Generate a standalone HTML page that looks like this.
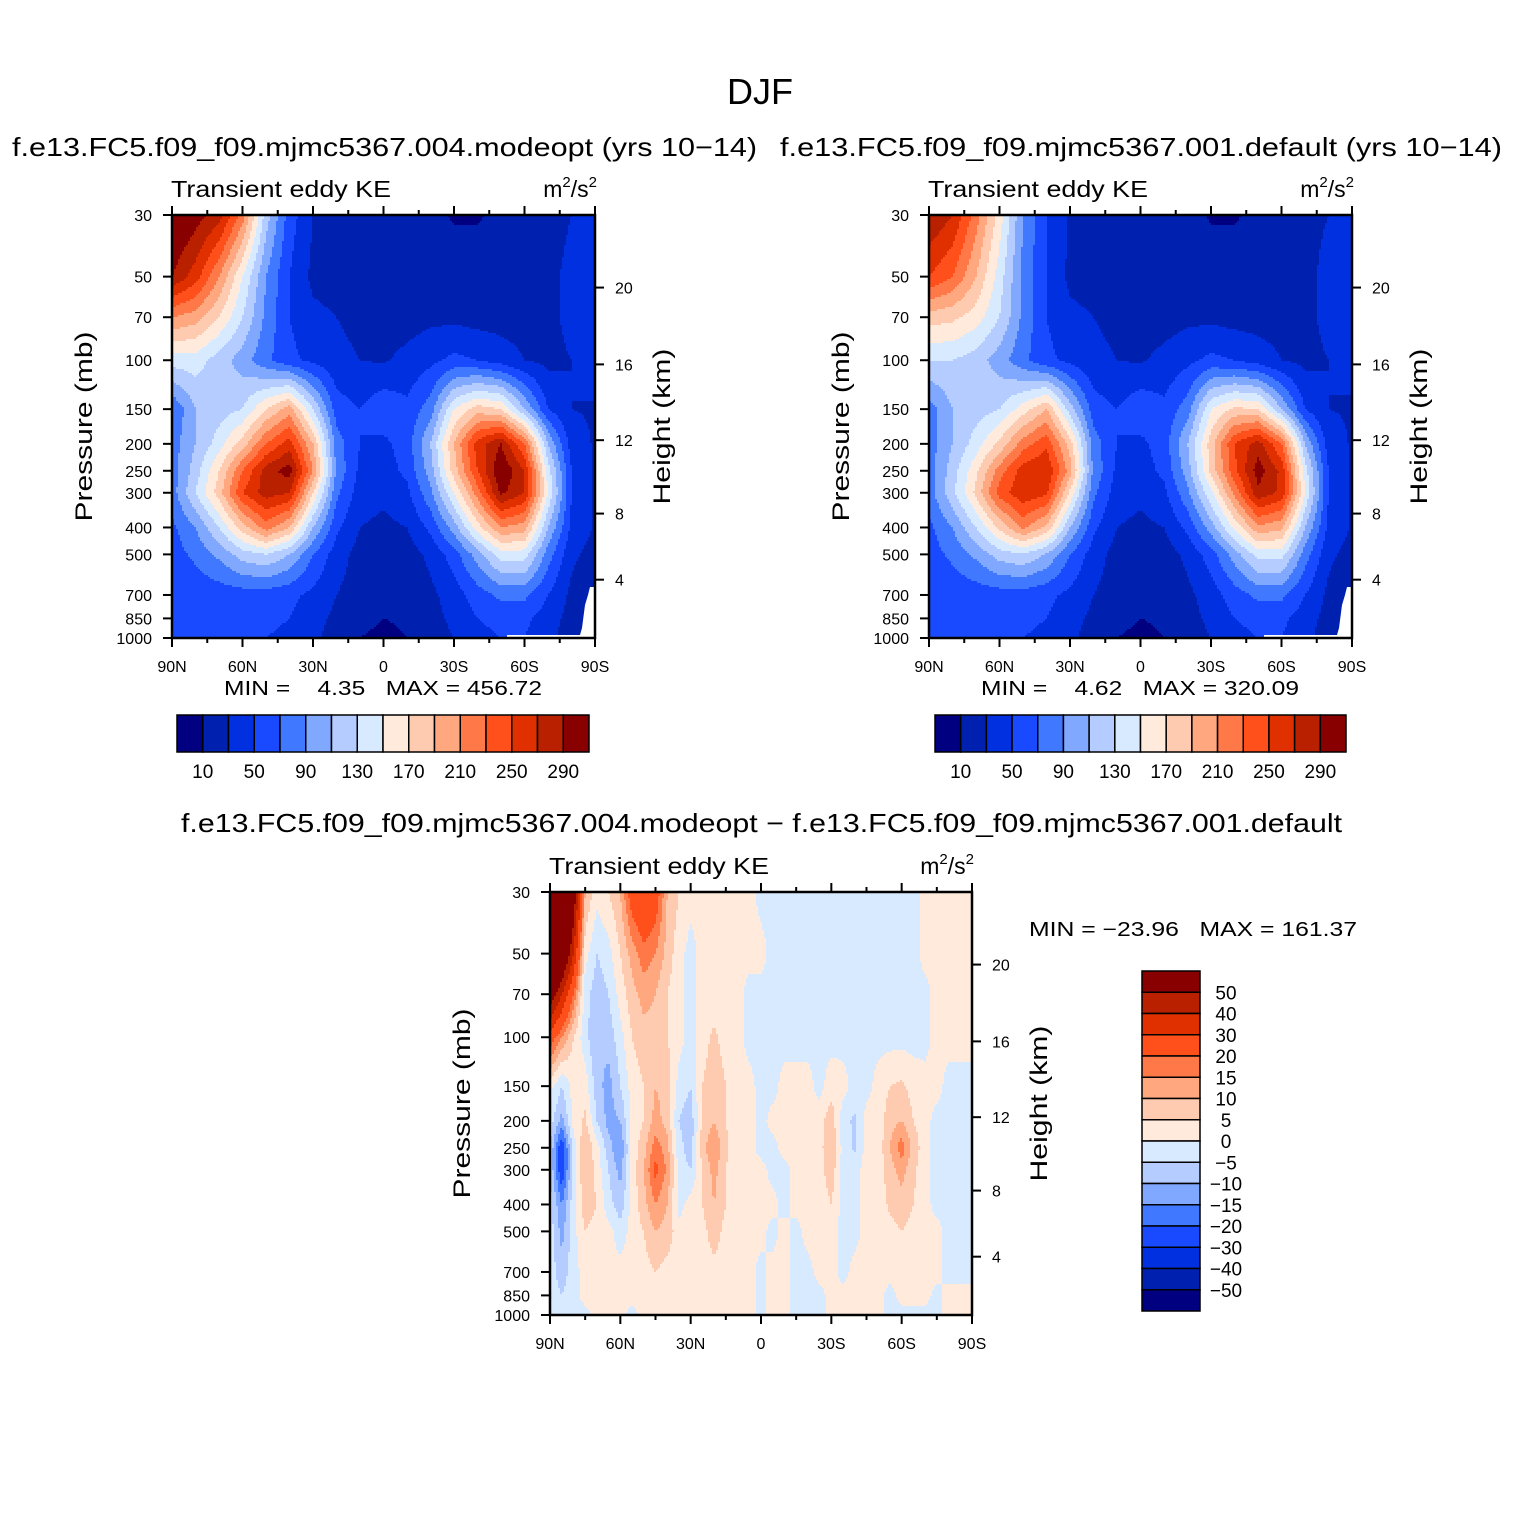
<!DOCTYPE html>
<html><head><meta charset="utf-8">
<style>
html,body{margin:0;padding:0;background:#fff;}
svg{display:block;font-family:"Liberation Sans",Arial,sans-serif;}
text{fill:#000;}
</style></head>
<body>
<svg id="fig" width="1524" height="1524" viewBox="0 0 1524 1524" xmlns="http://www.w3.org/2000/svg">
<rect x="0" y="0" width="1524" height="1524" fill="#fff"/>
<text x="760" y="104" font-size="36" text-anchor="middle">DJF</text>
</svg>
<script>
// ---------- data ----------
const levels = [30,50,70,100,150,200,250,300,400,500,700,850,1000];
const lats19 = [90,80,70,60,50,40,30,20,10,0,-10,-20,-30,-40,-50,-60,-70,-80,-90];
const lats37 = [90,85,80,75,70,65,60,55,50,45,40,35,30,25,20,15,10,5,0,-5,-10,-15,-20,-25,-30,-35,-40,-45,-50,-55,-60,-65,-70,-75,-80,-85,-90];
const keLevels = [10,30,50,70,90,110,130,150,170,190,210,230,250,270,290];
const keTickLabels = ["10","50","90","130","170","210","250","290"];
const diffLevels = [-50,-40,-30,-20,-15,-10,-5,0,5,10,15,20,30,40,50];
const diffTickLabels = ["50","40","30","20","15","10","5","0","\u22125","\u221210","\u221215","\u221220","\u221230","\u221240","\u221250"];
const colors = ["#000080","#0020b0","#0030e0","#1a4aff","#4078ff","#80a8ff","#b4ccff","#d8eaff","#ffeadb","#ffcbb0","#ffa880","#ff7848","#ff4f1a","#e03000","#b82000","#880000"];
const heightKm = [20,16,12,8,4];
const heightP = [54.75,103.5,194.0,356.5,616.6];
const latTicks = [90,60,30,0,-30,-60,-90];
const latTickLabels = ["90N","60N","30N","0","30S","60S","90S"];
const pTicks = [30,50,70,100,150,200,250,300,400,500,700,850,1000];

const modeopt = [
[320,300,280,220,120,60,30,25,22,20,20,15,8,8,15,20,22,30,45],
[290,260,210,150,90,50,25,22,20,20,20,20,20,20,22,22,25,35,45],
[210,200,170,130,85,50,35,30,25,22,22,25,25,22,22,22,25,35,45],
[140,140,120,100,75,55,45,35,30,28,35,45,55,50,40,30,25,30,40],
[70,110,120,130,170,200,130,60,50,65,55,80,150,180,170,110,50,30,28],
[80,110,140,180,230,260,190,80,50,45,60,110,190,260,290,230,110,40,28],
[80,120,170,230,280,300,210,85,45,40,55,100,180,250,310,270,140,50,28],
[80,130,180,250,280,270,170,75,40,35,45,85,150,220,295,270,150,50,28],
[65,90,130,180,220,190,110,55,30,25,30,55,100,160,210,200,110,45,28],
[60,75,95,120,130,110,70,40,22,18,20,35,60,100,140,140,80,35,22],
[55,55,58,60,60,55,45,30,20,15,15,25,40,60,75,75,50,25,5],
[55,55,55,55,55,50,38,25,15,10,12,22,35,50,55,55,40,22,4],
[52,52,52,52,50,45,35,20,10,6,10,20,30,45,50,50,35,20,4]
];
const defaultRun = [
[290,270,220,160,90,50,28,22,20,20,20,18,8,8,15,20,25,30,40],
[250,230,190,140,85,50,25,22,20,20,20,20,20,20,22,22,25,35,40],
[180,175,160,130,85,50,35,30,25,22,22,25,25,22,22,22,25,35,40],
[130,130,120,100,75,55,45,35,30,28,35,45,55,50,40,30,25,30,35],
[80,110,120,130,160,190,120,60,50,65,55,80,150,175,170,110,50,30,28],
[80,110,140,175,220,245,180,80,50,45,60,110,180,250,280,230,110,40,28],
[80,120,165,220,260,270,200,85,45,40,55,100,175,245,300,265,140,50,28],
[80,125,175,240,265,255,165,75,40,35,45,85,145,215,285,265,150,50,28],
[65,90,130,175,215,185,110,55,30,25,30,55,100,155,205,195,110,45,28],
[60,75,95,120,128,108,70,40,22,18,20,35,60,100,138,138,80,35,22],
[55,55,58,60,60,55,45,30,20,15,15,25,40,60,75,75,50,25,5],
[55,55,55,55,55,50,38,25,15,10,12,22,35,50,55,55,40,22,4],
[52,52,52,52,50,45,35,20,10,6,10,20,30,45,50,50,35,20,4]
];
const diffField = [
[160,120,60,10,2,5,10,25,30,25,10,5,2,2,2,2,2,2,-2,-2,-2,-2,-2,-2,-2,-2,-2,-2,-2,-2,-2,-2,2,2,2,2,2],
[100,70,40,2,-5,-2,5,12,18,15,8,2,-2,2,2,2,2,2,2,-2,-2,-2,-2,-2,-2,-2,-2,-2,-2,-2,-2,-2,2,2,2,2,2],
[60,40,20,-3,-8,-5,2,8,12,10,5,2,-2,2,2,2,2,-2,-2,-2,-2,-2,-2,-2,-2,-2,-2,-2,-2,-2,-2,-2,-2,2,2,2,2],
[25,15,5,-3,-10,-8,-2,5,8,8,5,2,-2,3,6,3,2,-2,-2,-2,-2,-2,-2,-2,-2,-2,-2,-2,-2,-2,-2,-2,-2,2,2,2,2],
[2,-5,2,3,-8,-12,-5,2,5,10,8,-2,-5,5,8,5,2,2,-2,-2,2,2,2,-2,3,2,-2,-2,2,5,6,3,2,2,-2,-2,-2],
[-2,-12,2,6,-5,-12,-10,2,5,12,8,-5,-8,6,10,5,2,2,-2,2,2,2,2,3,8,-3,-6,2,2,8,10,5,2,-2,-2,-2,-2],
[-5,-25,-3,10,2,-8,-15,2,8,18,12,-3,-8,8,15,6,2,2,-2,-2,2,2,2,3,10,-2,-6,2,2,10,18,8,2,-2,-2,-2,-2],
[-5,-25,-3,10,3,-5,-12,2,10,22,14,-2,-5,5,12,5,2,2,2,-2,-2,2,2,3,8,-2,-2,2,2,8,12,6,2,-2,-2,-2,-2],
[-3,-15,-2,8,5,-3,-8,2,8,15,10,-2,2,5,10,5,2,2,2,2,-2,2,2,2,5,-2,-2,2,2,6,8,5,2,-2,-2,-2,-2],
[-2,-12,-2,5,3,2,-3,2,5,10,8,2,2,3,8,3,2,2,2,-2,2,-2,2,2,2,-2,-2,2,2,3,5,3,2,2,-2,-2,-2],
[-2,-8,-2,2,2,2,2,2,3,5,3,2,2,2,3,2,2,2,-2,2,2,-2,-2,2,2,-2,2,2,2,2,2,2,2,2,-2,-2,-2],
[-2,-5,-2,2,2,2,2,2,2,2,2,2,2,2,2,2,2,2,-2,2,2,-2,-2,-2,2,2,2,2,2,-2,2,2,2,-2,2,2,2],
[-2,-2,-2,-2,2,2,2,-2,2,2,2,2,2,2,2,2,2,2,-2,2,2,-2,-2,-2,2,2,2,2,2,-2,-2,-2,-2,-2,2,2,2]
];

// ---------- helpers ----------
const NS = "http://www.w3.org/2000/svg";
const fig = document.getElementById("fig");
function mk(tag, attrs, parent){
  const e = document.createElementNS(NS, tag);
  for (const k in attrs) e.setAttribute(k, attrs[k]);
  (parent||fig).appendChild(e);
  return e;
}
function txt(s, attrs, parent){ const t = mk("text", attrs, parent); t.textContent = s; return t; }
function binIndex(v, lv){ let i=0; while(i<lv.length && v>=lv[i]) i++; return i; }

function interp(grid, lats, latv, p){
  const n = lats.length;
  let fx = (lats[0]-latv)/(lats[0]-lats[n-1])*(n-1);
  fx = Math.max(0, Math.min(n-1.0001, fx));
  const i0 = Math.floor(fx), tx = fx - i0;
  const lp = Math.log(p);
  let j0 = 0;
  while (j0 < levels.length-2 && lp > Math.log(levels[j0+1])) j0++;
  let ty = (lp - Math.log(levels[j0]))/(Math.log(levels[j0+1])-Math.log(levels[j0]));
  ty = Math.max(0, Math.min(1, ty));
  const a = grid[j0][i0], b = grid[j0][i0+1], c = grid[j0+1][i0], d = grid[j0+1][i0+1];
  return (a*(1-tx)+b*tx)*(1-ty) + (c*(1-tx)+d*tx)*ty;
}

function makePanel(cfg){
  const {x0,y0,w,h,grid,lats,lv,name} = cfg;
  const g = mk("g", {});
  
  
  const xOf = lat => x0 + (90-lat)/180*w;
  const yOf = p => y0 + Math.log(p/30)/Math.log(1000/30)*h;
  const latOf = x => 90 - (x-x0)/w*180;
  const pOf = y => 30*Math.exp((y-y0)/h*Math.log(1000/30));
  const step = 2;
  for (let y=y0; y<y0+h; y+=step){
    const p = pOf(Math.min(y+step/2, y0+h));
    const hh = Math.min(step, y0+h-y);
    let runStart = x0, runIdx = -1;
    for (let x=x0; ; x+=step){
      const done = x >= x0+w;
      let idx = -1;
      if (!done) idx = binIndex(interp(grid, lats, latOf(Math.min(x+step/2,x0+w)), p), lv);
      if (idx !== runIdx || done){
        if (runIdx >= 0){
          const r = mk("rect", {x:runStart, y:y, width:Math.min(x,x0+w)-runStart+0.6, height:hh+0.6, fill:colors[runIdx]}, g);
          
          
        }
        runStart = x; runIdx = idx;
      }
      if (done) break;
    }
  }
  if (cfg.mask){
    const R = x0+w, B = y0+h;
    const m = mk("polygon", {points:`${R-5},${B-51} ${R},${B-51} ${R},${B} ${R-88},${B} ${R-88},${B-3} ${R-15},${B-3} ${R-13},${B-10} ${R-10},${B-33} ${R-7},${B-43}`, fill:"#fff"}, g);
    
    
  }
  const frame = mk("rect", {x:x0, y:y0, width:w, height:h, fill:"none", stroke:"#000", "stroke-width":2.5}, g);
  
  
  for (let lat=90; lat>=-90; lat-=15){
    const major = lat%30===0;
    const L = major?9:5;
    const x = xOf(lat);
    mk("line",{x1:x,y1:y0+h,x2:x,y2:y0+h+L,stroke:"#000","stroke-width":2},g);
    mk("line",{x1:x,y1:y0,x2:x,y2:y0-L,stroke:"#000","stroke-width":2},g);
  }
  latTicks.forEach((lat,i)=>{
    const t = txt(latTickLabels[i], {x:xOf(lat), y:y0+h+34, "font-size":16, "text-anchor":"middle"}, g);
    
    
  });
  pTicks.forEach(p=>{
    const y = yOf(p);
    mk("line",{x1:x0-9,y1:y,x2:x0,y2:y,stroke:"#000","stroke-width":2},g);
    const t = txt(String(p), {x:x0-20, y:y+6, "font-size":16, "text-anchor":"end"}, g);
    
    
  });
  heightKm.forEach((km,i)=>{
    const y = yOf(heightP[i]);
    mk("line",{x1:x0+w,y1:y,x2:x0+w+9,y2:y,stroke:"#000","stroke-width":2},g);
    const t = txt(String(km), {x:x0+w+20, y:y+6, "font-size":16}, g);
    
    
  });
  const yl = txt("Pressure (mb)", {x:0,y:0,"font-size":24,"text-anchor":"middle",transform:`translate(${x0-80},${y0+h/2}) rotate(-90)`, textLength:190, lengthAdjust:"spacingAndGlyphs"}, g);
  
  
  const yr = txt("Height (km)", {x:0,y:0,"font-size":24,"text-anchor":"middle",transform:`translate(${x0+w+75},${y0+h/2}) rotate(-90)`, textLength:156, lengthAdjust:"spacingAndGlyphs"}, g);
  
  
  const vt = txt("Transient eddy KE", {x:x0-1, y:y0-18, "font-size":23, textLength:220, lengthAdjust:"spacingAndGlyphs"}, g);
  
  
  const un = mk("text", {x:x0+w+2, y:y0-18, "font-size":23, "text-anchor":"end"}, g);
  un.innerHTML = 'm<tspan font-size="15" dy="-10">2</tspan><tspan dy="10">/s</tspan><tspan font-size="15" dy="-10">2</tspan>';
  
  
  return g;
}

function hColorbar(x0,y0,w,h,name){
  const g = mk("g",{});
  
  
  const bw = w/colors.length;
  colors.forEach((c,i)=>{
    const r = mk("rect",{x:x0+i*bw,y:y0,width:bw,height:h,fill:c,stroke:"#000","stroke-width":1.5},g);
    
    
  });
  keTickLabels.forEach((s,i)=>{
    const t = txt(s,{x:x0+(1+2*i)*bw, y:y0+h+26, "font-size":19, "text-anchor":"middle"},g);
    
    
  });
}

// ---------- panels ----------
const t1 = txt("f.e13.FC5.f09_f09.mjmc5367.004.modeopt (yrs 10\u221214)", {x:12,y:156,"font-size":26,textLength:745,lengthAdjust:"spacingAndGlyphs"});
 
const t2 = txt("f.e13.FC5.f09_f09.mjmc5367.001.default (yrs 10\u221214)", {x:780,y:156,"font-size":26,textLength:722,lengthAdjust:"spacingAndGlyphs"});
 

makePanel({x0:172,y0:215,w:423,h:423,grid:modeopt,lats:lats19,lv:keLevels,name:"modeopt-panel",mask:true});
makePanel({x0:929,y0:215,w:423,h:423,grid:defaultRun,lats:lats19,lv:keLevels,name:"default-panel",mask:true});

const m1 = txt("MIN =    4.35   MAX = 456.72", {x:224,y:695,"font-size":20,textLength:318,lengthAdjust:"spacingAndGlyphs","xml:space":"preserve",style:"white-space:pre"});
 
const m2 = txt("MIN =    4.62   MAX = 320.09", {x:981,y:695,"font-size":20,textLength:318,lengthAdjust:"spacingAndGlyphs","xml:space":"preserve",style:"white-space:pre"});
 
hColorbar(177,715,412,37,"panel1-colorbar");
hColorbar(935,715,411,37,"panel2-colorbar");

const t3 = txt("f.e13.FC5.f09_f09.mjmc5367.004.modeopt \u2212 f.e13.FC5.f09_f09.mjmc5367.001.default", {x:181,y:832,"font-size":26,textLength:1161,lengthAdjust:"spacingAndGlyphs"});
 
makePanel({x0:550,y0:892,w:422,h:423,grid:diffField,lats:lats37,lv:diffLevels,name:"diff-panel",mask:false});
const m3 = txt("MIN = \u221223.96   MAX = 161.37", {x:1029,y:936,"font-size":20,textLength:328,lengthAdjust:"spacingAndGlyphs","xml:space":"preserve",style:"white-space:pre"});
 

(function(){
  const g = mk("g",{});
  
  
  const x0=1142, y0=971, w=58, h=340, bh=h/colors.length;
  for (let i=0;i<colors.length;i++){
    const r = mk("rect",{x:x0,y:y0+i*bh,width:w,height:bh,fill:colors[colors.length-1-i],stroke:"#000","stroke-width":1.5},g);
    
    
  }
  diffTickLabels.forEach((s,i)=>{
    const t = txt(s,{x:1226,y:y0+(i+1)*bh+7,"font-size":19,"text-anchor":"middle"},g);
    
    
  });
})();
</script>
</body></html>
